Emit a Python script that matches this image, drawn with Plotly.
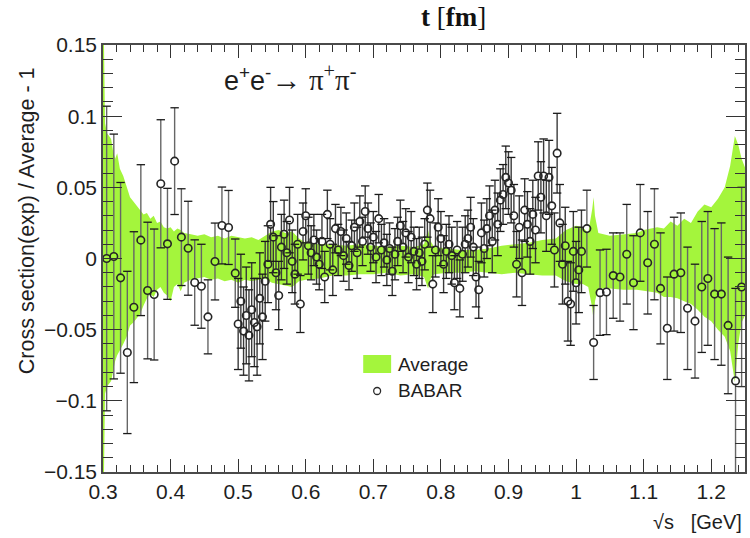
import plotly.graph_objects as go

# ---------------- data ----------------
band_x = [0.300, 0.3015, 0.303, 0.306, 0.309, 0.312, 0.315, 0.318, 0.321, 0.325, 0.330, 0.335,
          0.340, 0.345, 0.350, 0.355, 0.360, 0.365, 0.370, 0.375, 0.380, 0.385, 0.390, 0.395,
          0.400, 0.405, 0.410, 0.415, 0.420, 0.430, 0.440, 0.450, 0.460, 0.470, 0.480, 0.490,
          0.500, 0.510, 0.520, 0.530, 0.540, 0.550, 0.560, 0.570, 0.580, 0.590, 0.600, 0.620,
          0.640, 0.660, 0.680, 0.700, 0.720, 0.740, 0.760, 0.775, 0.781, 0.785, 0.790, 0.810,
          0.830, 0.850, 0.870, 0.890, 0.910, 0.930, 0.950, 0.970, 0.985, 1.000, 1.010, 1.018,
          1.024, 1.026, 1.028, 1.033, 1.050, 1.070, 1.090, 1.100, 1.120, 1.130, 1.140, 1.150,
          1.160, 1.170, 1.180, 1.190, 1.200, 1.210, 1.220, 1.228, 1.235, 1.240, 1.245, 1.250]
band_hi = [0.150, 0.150, 0.095, 0.088, 0.086, 0.084, 0.075, 0.070, 0.074, 0.063, 0.058, 0.050,
           0.043, 0.040, 0.037, 0.034, 0.031, 0.032, 0.028, 0.030, 0.025, 0.026, 0.022, 0.021,
           0.022, 0.019, 0.021, 0.020, 0.018, 0.017, 0.016, 0.017, 0.015, 0.016, 0.014, 0.016,
           0.015, 0.014, 0.015, 0.013, 0.016, 0.019, 0.020, 0.018, 0.019, 0.014, 0.011, 0.010,
           0.010, 0.009, 0.010, 0.009, 0.008, 0.009, 0.008, 0.010, 0.020, 0.012, 0.008, 0.007,
           0.006, 0.006, 0.007, 0.009, 0.010, 0.011, 0.013, 0.014, 0.020, 0.023, 0.022, 0.018,
           0.035, 0.043, 0.030, 0.018, 0.016, 0.017, 0.018, 0.020, 0.022, 0.021, 0.026, 0.023,
           0.028, 0.025, 0.033, 0.038, 0.036, 0.042, 0.050, 0.065, 0.086, 0.080, 0.070, 0.064]
band_lo = [-0.150, -0.150, -0.095, -0.090, -0.088, -0.086, -0.080, -0.072, -0.068, -0.064, -0.060, -0.055,
           -0.047, -0.045, -0.042, -0.039, -0.033, -0.028, -0.025, -0.027, -0.022, -0.020, -0.024, -0.026,
           -0.030, -0.020, -0.018, -0.023, -0.017, -0.015, -0.014, -0.013, -0.015, -0.014, -0.016, -0.015,
           -0.017, -0.015, -0.016, -0.015, -0.014, -0.017, -0.018, -0.019, -0.020, -0.016, -0.015, -0.014,
           -0.012, -0.012, -0.011, -0.011, -0.010, -0.012, -0.011, -0.013, -0.021, -0.014, -0.011, -0.010,
           -0.010, -0.009, -0.010, -0.011, -0.010, -0.011, -0.012, -0.012, -0.016, -0.018, -0.018, -0.020,
           -0.035, -0.044, -0.030, -0.021, -0.021, -0.022, -0.022, -0.023, -0.024, -0.027, -0.027, -0.028,
           -0.030, -0.032, -0.036, -0.041, -0.044, -0.050, -0.055, -0.065, -0.087, -0.060, -0.045, -0.040]

low_x = [0.3054, 0.316, 0.326, 0.336, 0.3457, 0.356, 0.366, 0.3757, 0.3855, 0.3954,
         0.406, 0.416, 0.426, 0.4357, 0.4456, 0.4553, 0.4657, 0.476, 0.4858, 0.4957]
low_y = [0.000, 0.0014, -0.0136, -0.066, -0.0342, 0.0129, -0.0225, -0.0253, 0.0525, 0.0103,
         0.0684, 0.015, 0.0072, -0.0169, -0.0195, -0.041, -0.0021, 0.0232, 0.0218, -0.0103]
low_err = [0.107, 0.086, 0.067, 0.057, 0.053, 0.053, 0.048, 0.046, 0.045, 0.039,
           0.0375, 0.034, 0.033, 0.030, 0.0295, 0.026, 0.027, 0.027, 0.026, 0.024]

mid_x = [0.500, 0.504, 0.508, 0.512, 0.516, 0.520, 0.524, 0.528, 0.532, 0.536,
         0.540, 0.544, 0.548, 0.552, 0.556, 0.560, 0.564, 0.568, 0.572, 0.576, 0.580, 0.584,
         0.588, 0.592, 0.596, 0.600, 0.604, 0.608, 0.612, 0.616, 0.620, 0.624,
         0.628, 0.632, 0.636, 0.640, 0.644, 0.648, 0.652, 0.656, 0.660, 0.664, 0.668, 0.672, 0.676,
         0.680, 0.684, 0.688, 0.692, 0.696, 0.700, 0.704, 0.708, 0.712, 0.716, 0.720, 0.724, 0.728,
         0.732, 0.736,
         0.740, 0.744, 0.748, 0.752, 0.756, 0.760, 0.764, 0.768, 0.772, 0.776, 0.780, 0.784, 0.788,
         0.792, 0.796, 0.800, 0.804, 0.808, 0.812, 0.816, 0.820, 0.824, 0.828, 0.832, 0.836, 0.840,
         0.844, 0.848, 0.852, 0.856, 0.860, 0.864, 0.868,
         0.872, 0.876, 0.880, 0.884, 0.888, 0.892, 0.896, 0.900, 0.904, 0.908, 0.912, 0.916, 0.920,
         0.924, 0.928, 0.932, 0.936, 0.940, 0.944,
         0.948, 0.952, 0.956, 0.960, 0.964, 0.968, 0.972, 0.976, 0.980, 0.984, 0.988, 0.992, 0.996,
         1.000, 1.004, 1.008]
mid_y = [-0.046, -0.030, -0.051, -0.040, -0.054, -0.036, -0.045, -0.048, -0.028, -0.041,
         -0.016, -0.004, 0.024, 0.015, -0.010, -0.026, 0.008, 0.017, 0.004, 0.027, -0.002, -0.011,
         0.010, -0.032, 0.019, 0.030, 0.009, 0.004, 0.013, 0.001, -0.004, 0.012,
         -0.013, 0.031, 0.010, -0.008, 0.021, 0.006, 0.019, 0.002, 0.014, -0.005, 0.009, 0.022, 0.004,
         0.026, 0.012, 0.033, 0.021, 0.008, 0.015, 0.001, 0.028, 0.006, 0.011, -0.001, 0.007, -0.009,
         0.003, 0.012,
         0.023, 0.008, 0.018, 0.001, 0.015, 0.005, -0.004, 0.004, -0.002, 0.010, 0.034, 0.028, -0.018,
         0.006, 0.022, 0.014, -0.004, 0.005, 0.010, 0.002, -0.017, 0.006, -0.021, 0.003, 0.010, 0.014,
         0.022, 0.008, -0.013, -0.022, 0.018, 0.007, 0.021,
         0.030, 0.012, 0.034, 0.024, 0.041, 0.045, 0.057, 0.053, 0.048, 0.030, -0.004, 0.022, -0.010,
         0.034, 0.024, 0.012, 0.031, 0.020, 0.058,
         0.043, 0.058, 0.030, 0.057, 0.037, 0.006, 0.074, 0.025, -0.004, 0.009, -0.030, -0.032, 0.005,
         -0.017, -0.008, 0.005]
mid_err = [0.032, 0.033, 0.031, 0.034, 0.032, 0.033, 0.031, 0.034, 0.032, 0.030,
           0.028, 0.027, 0.026, 0.025, 0.026, 0.024, 0.023, 0.024, 0.022, 0.023, 0.022, 0.021,
           0.021, 0.020, 0.020, 0.019, 0.020, 0.019, 0.018, 0.019, 0.018, 0.019,
           0.018, 0.017, 0.018, 0.018, 0.017, 0.018, 0.017, 0.018, 0.018, 0.017, 0.018, 0.017, 0.018,
           0.018, 0.017, 0.018, 0.018, 0.017, 0.018, 0.018, 0.017, 0.018, 0.017, 0.018, 0.018, 0.017,
           0.018, 0.017,
           0.018, 0.018, 0.017, 0.018, 0.018, 0.017, 0.018, 0.018, 0.017, 0.018, 0.019, 0.020, 0.020,
           0.019, 0.020, 0.019, 0.020, 0.019, 0.020, 0.020, 0.019, 0.020, 0.020, 0.019, 0.020, 0.020,
           0.021, 0.020, 0.021, 0.020, 0.021, 0.020, 0.021,
           0.021, 0.022, 0.021, 0.022, 0.022, 0.021, 0.022, 0.022, 0.023, 0.022, 0.023, 0.022, 0.023,
           0.022, 0.023, 0.023, 0.024, 0.023, 0.024,
           0.025, 0.026, 0.025, 0.026, 0.027, 0.026, 0.028, 0.027, 0.028, 0.027, 0.028, 0.029, 0.028,
           0.029, 0.030, 0.029]

high_x = [1.016, 1.026, 1.0355, 1.045, 1.055, 1.065, 1.075, 1.085, 1.095, 1.106, 1.116, 1.125,
          1.135, 1.145, 1.155, 1.165, 1.176, 1.186, 1.195, 1.205, 1.215, 1.225, 1.236, 1.245]
high_y = [0.021, -0.059, -0.024, -0.0235, -0.012, -0.013, 0.003, -0.017, 0.018, -0.003, 0.010, -0.021,
          -0.049, -0.011, -0.010, -0.035, -0.044, -0.020, -0.014, -0.025, -0.025, -0.047, -0.086, -0.020]
high_err = [0.027, 0.026, 0.030, 0.030, 0.030, 0.031, 0.035, 0.033, 0.034, 0.036, 0.039, 0.039,
            0.036, 0.040, 0.042, 0.043, 0.040, 0.046, 0.047, 0.046, 0.050, 0.048, 0.065, 0.070]

babar_x = low_x + mid_x + high_x
babar_y = low_y + mid_y + high_y
babar_err = low_err + mid_err + high_err

# ---------------- style ----------------
GREEN = "#a4f53c"
GAP = 0.0026   # marker radius in data units (error bars stop at the marker edge)
SANS = "Liberation Sans, Arial, sans-serif"
SERIF = "Liberation Serif, Times New Roman, serif"
TXT = "#1e1e1e"

fig = go.Figure()

# Average band
fig.add_trace(go.Scatter(
    x=band_x + band_x[::-1], y=band_hi + band_lo[::-1],
    fill="toself", fillcolor=GREEN, mode="lines", line=dict(width=0, color=GREEN),
    hoverinfo="skip", showlegend=False))


def bar_segments(xs, ys, es):
    ex, ey = [], []
    for x, y, e in zip(xs, ys, es):
        ex += [x, x, None, x, x, None]
        ey += [y + GAP, y + e, None, y - GAP, y - e, None]
    return ex, ey


# error bar segments: sparse parts (gray) and dense part (darker)
sx, sy = bar_segments(low_x + high_x, low_y + high_y, low_err + high_err)
fig.add_trace(go.Scatter(x=sx, y=sy, mode="lines", line=dict(color="#666666", width=1.4),
                         hoverinfo="skip", showlegend=False))
dx, dy = bar_segments(mid_x, mid_y, mid_err)
fig.add_trace(go.Scatter(x=dx, y=dy, mode="lines", line=dict(color="#3a3a3a", width=1.4),
                         hoverinfo="skip", showlegend=False))

# error bar caps
cap_x = babar_x + babar_x
cap_y = [y + e for y, e in zip(babar_y, babar_err)] + [y - e for y, e in zip(babar_y, babar_err)]
fig.add_trace(go.Scatter(x=cap_x, y=cap_y, mode="markers",
                         marker=dict(symbol="line-ew", size=6, line=dict(color="#1a1a1a", width=1.3)),
                         hoverinfo="skip", showlegend=False))

# BABAR points (open circles)
fig.add_trace(go.Scatter(x=babar_x, y=babar_y, mode="markers", name="BABAR",
                         marker=dict(symbol="circle-open", size=7.5, color="#262626",
                                     line=dict(width=1.6)),
                         showlegend=False))

axis_common = dict(showline=True, linecolor="#4a4a4a", linewidth=1.5, mirror="allticks",
                   ticks="inside", tickcolor="#333333", tickwidth=1, showgrid=False, zeroline=False,
                   tickfont=dict(family=SANS, size=21, color=TXT))

fig.update_xaxes(range=[0.3, 1.25], tick0=0.3, dtick=0.1, ticklen=13,
                 minor=dict(ticks="inside", ticklen=7, dtick=0.02, tick0=0.3,
                            tickcolor="#333333", tickwidth=1, showgrid=False),
                 **axis_common)
fig.update_yaxes(range=[-0.15, 0.15], tick0=0, dtick=0.05, ticklen=19,
                 minor=dict(ticks="inside", ticklen=10, dtick=0.01, tick0=0,
                            tickcolor="#333333", tickwidth=1, showgrid=False),
                 **axis_common)

annotations = [
    dict(text="<b>t</b> [<b>fm</b>]", x=0.5466, y=1.066, xref="paper", yref="paper",
         showarrow=False, font=dict(family=SERIF, size=27, color="#111"), xanchor="center", yanchor="middle"),
    dict(text="Cross section(exp) / Average - 1", textangle=-90, x=-0.118, y=0.952,
         xref="paper", yref="paper", showarrow=False, xanchor="center", yanchor="top",
         font=dict(family=SANS, size=21.5, color=TXT)),
    dict(text="√s   [GeV]", x=0.998, y=-0.117, xref="paper", yref="paper", showarrow=False,
         xanchor="right", yanchor="middle", font=dict(family=SANS, size=20, color=TXT)),
    dict(text="e<sup>+</sup>e<sup>-</sup><span style='font-size:30px'>\u2192</span> "
              "<span style='font-family:Liberation Serif;font-size:29px'>\u03c0<sup>+</sup>\u03c0<sup>-</sup></span>",
         x=0.1848, y=0.9227, xref="paper", yref="paper", showarrow=False,
         xanchor="left", yanchor="middle", font=dict(family=SANS, size=27, color=TXT)),
    dict(text="Average", x=0.4565, y=0.2529, xref="paper", yref="paper", showarrow=False,
         xanchor="left", yanchor="middle", font=dict(family=SANS, size=19, color=TXT)),
    dict(text="BABAR", x=0.4565, y=0.1897, xref="paper", yref="paper", showarrow=False,
         xanchor="left", yanchor="middle", font=dict(family=SANS, size=19, color=TXT)),
]

shapes = [
    dict(type="rect", xref="paper", yref="paper", x0=0.4053, x1=0.4488, y0=0.2319, y1=0.274,
         fillcolor=GREEN, line=dict(width=0)),
    dict(type="circle", xref="paper", yref="paper", x0=0.4216, x1=0.4324, y0=0.1815, y1=0.1979,
         fillcolor="rgba(0,0,0,0)", line=dict(color="#2a2a2a", width=1.3)),
]

fig.update_layout(width=750, height=538, margin=dict(l=103, r=3, t=45, b=66),
                  paper_bgcolor="white", plot_bgcolor="white",
                  annotations=annotations, shapes=shapes, showlegend=False)

fig.write_html("out.html")
